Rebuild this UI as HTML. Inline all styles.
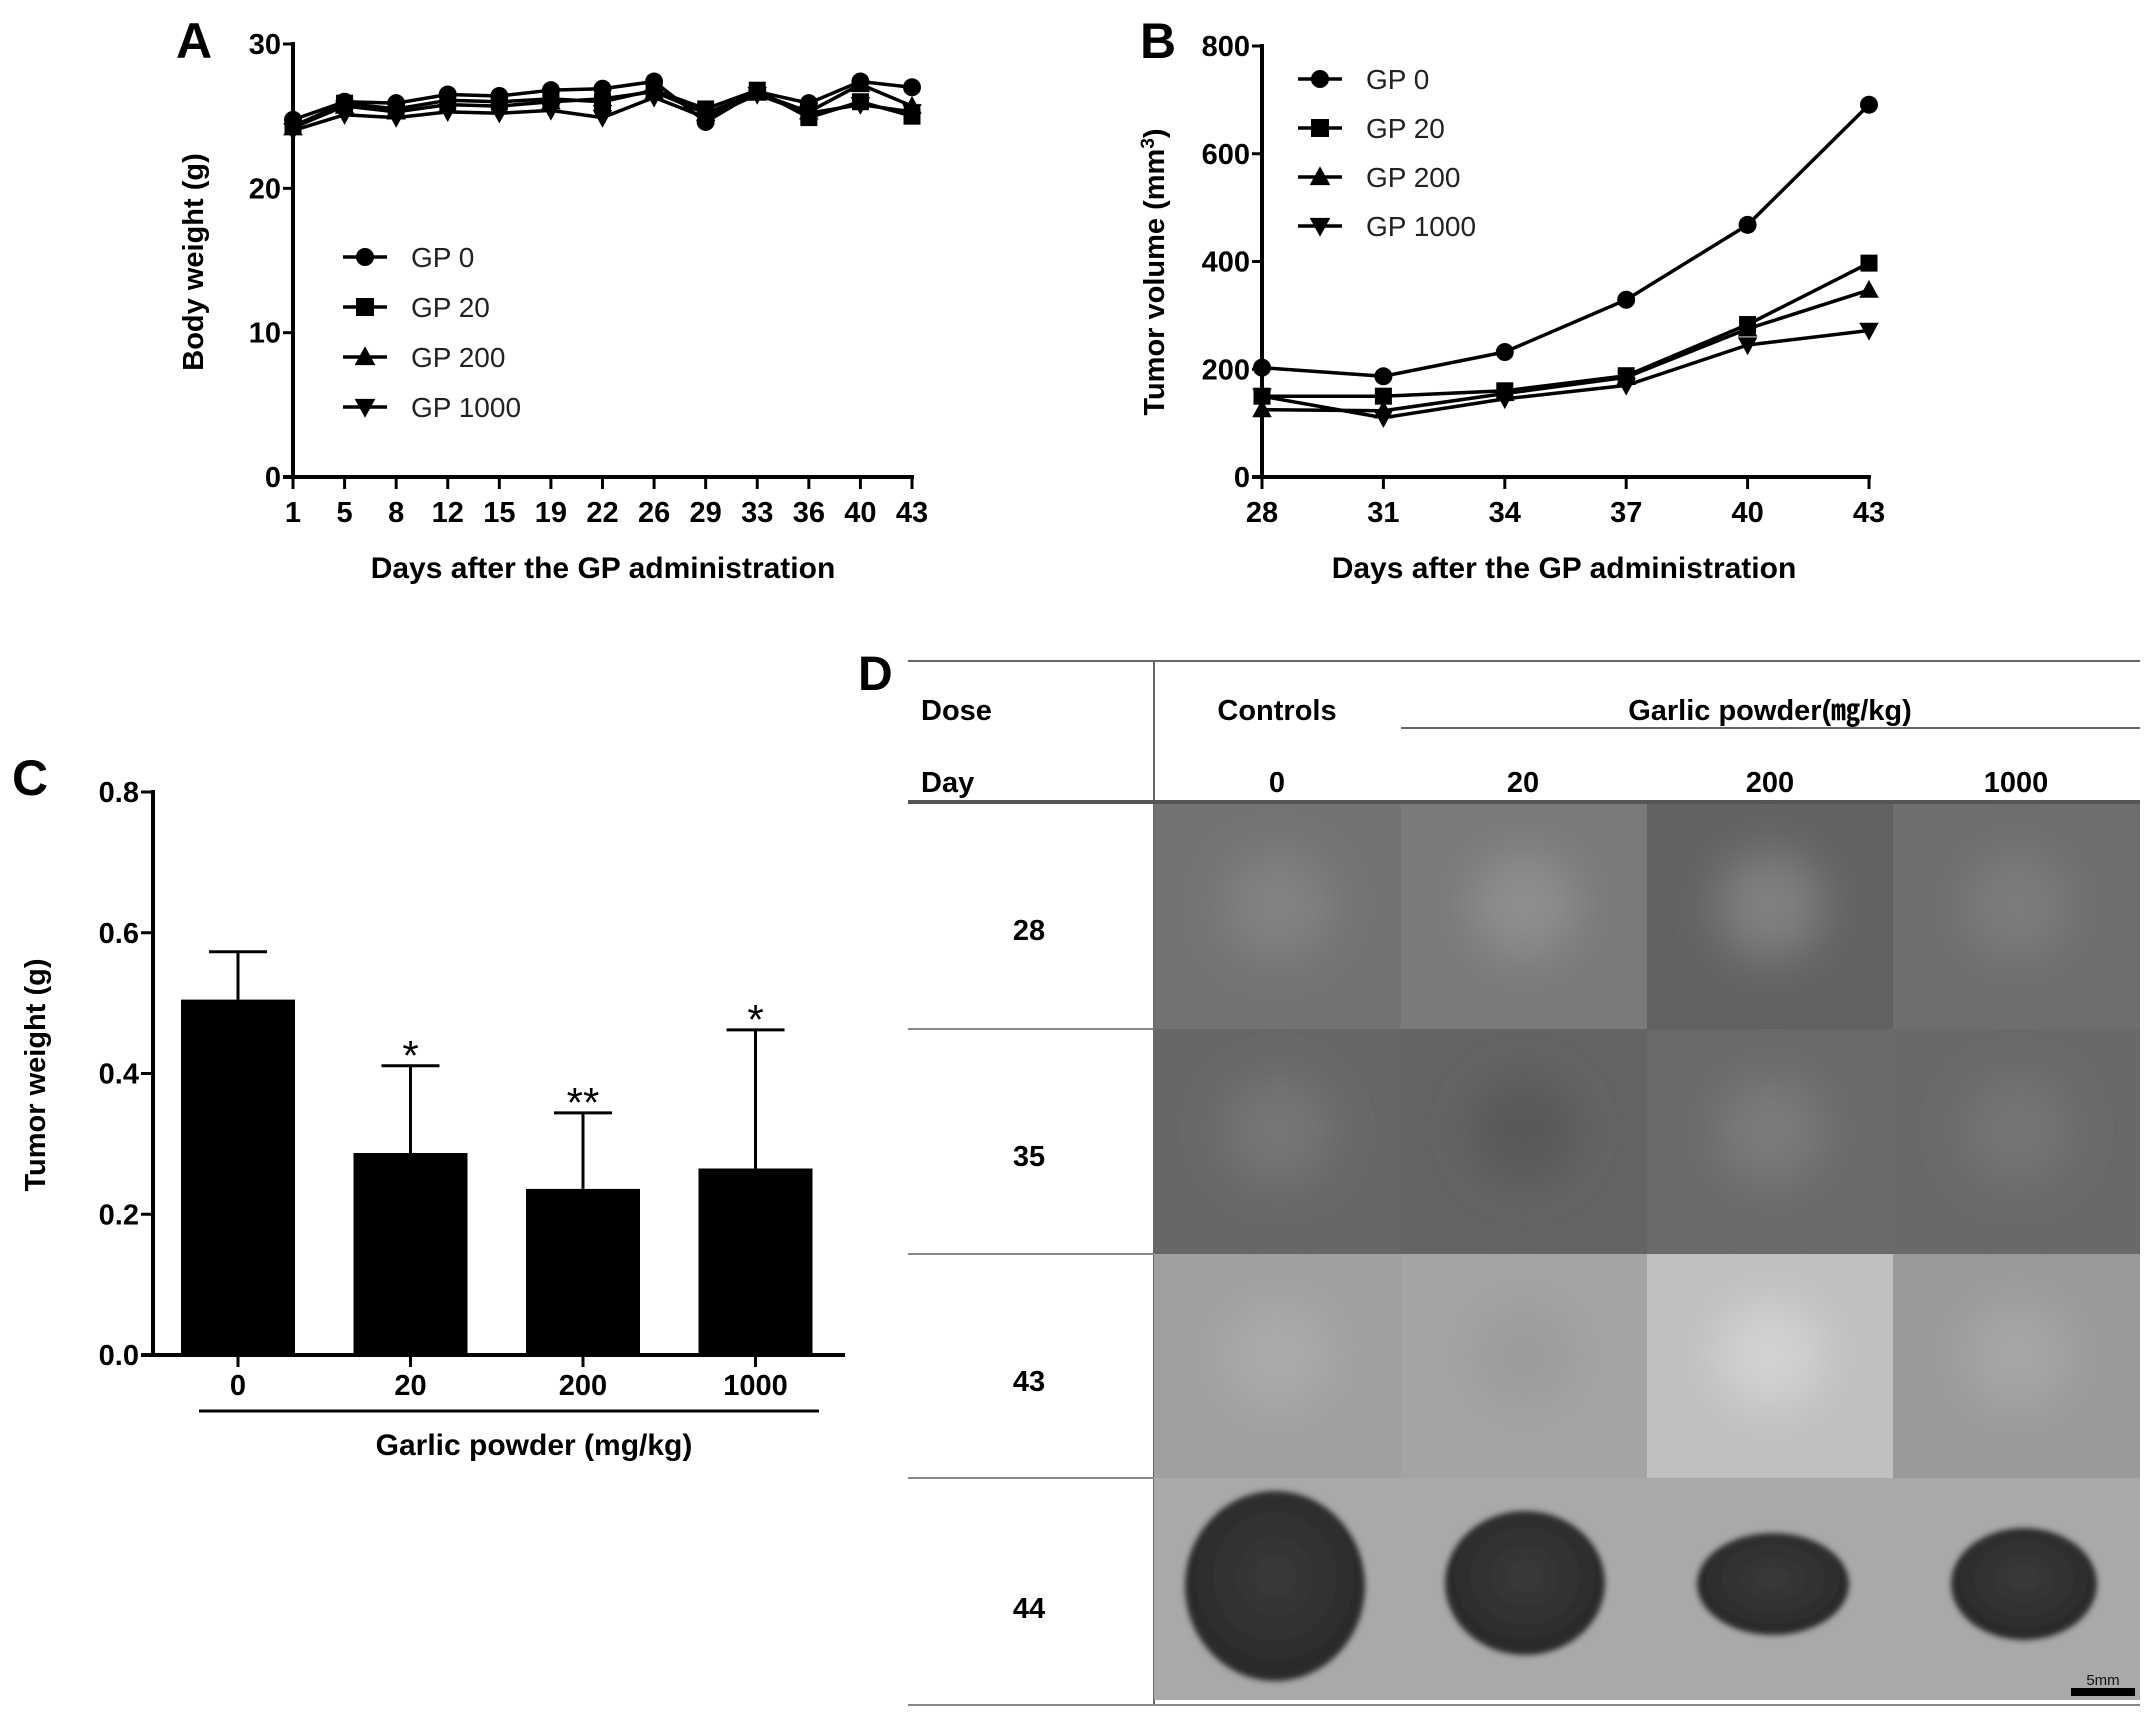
<!DOCTYPE html>
<html><head><meta charset="utf-8"><style>
html,body{margin:0;padding:0;background:#fff;}
svg{display:block;}
.nar{font-family:"Liberation Sans Narrow","Liberation Sans",sans-serif;}
.b{font-family:"Liberation Sans",sans-serif;font-weight:bold;}
.d{font-family:"Liberation Sans","Noto Sans CJK KR",sans-serif;font-weight:bold;}
</style></head><body>
<svg id="fig" width="2150" height="1713" viewBox="0 0 2150 1713" xmlns="http://www.w3.org/2000/svg">
<defs>
<radialGradient id="gDark" cx="50%" cy="45%" r="65%"><stop offset="0" stop-color="#3a3a3a"/><stop offset="0.8" stop-color="#2a2a2a"/><stop offset="1" stop-color="#1e1e1e"/></radialGradient>
<filter id="blur" x="-50%" y="-50%" width="200%" height="200%"><feGaussianBlur stdDeviation="22"/></filter>
<filter id="blur2" x="-20%" y="-20%" width="140%" height="140%"><feGaussianBlur stdDeviation="3"/></filter>
</defs>
<g id="panelA"></g>
<g id="panelB"></g>
<g id="panelC"></g>
<g id="panelD">
  <text x="858" y="690" class="b" font-size="48">D</text>
  <line x1="908" y1="661" x2="2140" y2="661" stroke="#666" stroke-width="2"/>
  <line x1="1154" y1="661" x2="1154" y2="1705" stroke="#666" stroke-width="2"/>
  <line x1="1401" y1="728" x2="2140" y2="728" stroke="#666" stroke-width="2"/>
  <text x="921" y="720" class="d" font-size="29">Dose</text>
  <text x="1277" y="720" class="d" font-size="29" text-anchor="middle">Controls</text>
  <text x="1770" y="720" class="d" font-size="29" text-anchor="middle">Garlic powder(㎎/kg)</text>
  <text x="921" y="792" class="d" font-size="29">Day</text>
  <text x="1277" y="792" class="d" font-size="29" text-anchor="middle">0</text>
  <text x="1523" y="792" class="d" font-size="29" text-anchor="middle">20</text>
  <text x="1770" y="792" class="d" font-size="29" text-anchor="middle">200</text>
  <text x="2016" y="792" class="d" font-size="29" text-anchor="middle">1000</text>
  <rect x="908" y="800" width="1232" height="4" fill="#555"/>
  <g id="photos"></g>
  <text x="1029" y="940" class="d" font-size="29" text-anchor="middle">28</text>
  <text x="1029" y="1166" class="d" font-size="29" text-anchor="middle">35</text>
  <text x="1029" y="1391" class="d" font-size="29" text-anchor="middle">43</text>
  <text x="1029" y="1618" class="d" font-size="29" text-anchor="middle">44</text>
  <line x1="908" y1="1029" x2="1154" y2="1029" stroke="#888" stroke-width="2"/>
  <line x1="908" y1="1254" x2="1154" y2="1254" stroke="#888" stroke-width="2"/>
  <line x1="908" y1="1478" x2="1154" y2="1478" stroke="#888" stroke-width="2"/>
  <line x1="908" y1="1705" x2="2140" y2="1705" stroke="#888" stroke-width="2"/>
</g>
</svg>
<script>
// ---------- Panel A data ----------
const aDays = ["1","5","8","12","15","19","22","26","29","33","36","40","43"];
const aGP0    = [24.75,26.0,25.9,26.5,26.4,26.8,26.9,27.4,24.6,26.7,25.9,27.4,27.0];
const aGP20   = [24.3,25.9,25.5,26.1,26.0,26.2,26.0,26.8,25.5,26.8,24.9,26.0,25.0];
const aGP200  = [24.2,25.7,25.3,25.8,25.7,26.0,26.2,26.7,25.2,26.6,25.3,27.2,25.7];
const aGP1000 = [24.0,25.1,24.9,25.3,25.2,25.4,24.9,26.3,24.9,26.5,25.2,25.8,25.3];
const aYTicks = [0,10,20,30];
// ---------- Panel B data ----------
const bDays = ["28","31","34","37","40","43"];
const bGP0    = [203,187,232,329,468,691];
const bGP20   = [150,150,160,188,283,397];
const bGP200  = [125,123,155,185,275,347];
const bGP1000 = [150,110,145,170,245,272];
const bYTicks = [0,200,400,600,800];
// ---------- Panel C data ----------
const cDoses = ["0","20","200","1000"];
const cMeans = [0.505,0.287,0.236,0.265];
const cErr   = [0.573,0.411,0.344,0.462];
const cStars = ["","*","**","*"];
const cYTicks = ["0.0","0.2","0.4","0.6","0.8"];

const NS="http://www.w3.org/2000/svg";
function mk(parent,tag,attrs){const e=document.createElementNS(NS,tag);for(const k in attrs)e.setAttribute(k,attrs[k]);parent.appendChild(e);return e;}

function marker(g,type,x,y,s){
  let e;
  if(type==="circle") e=mk(g,"circle",{cx:x,cy:y,r:s});
  else if(type==="square") e=mk(g,"rect",{x:x-s,y:y-s,width:2*s,height:2*s});
  else if(type==="tri") e=mk(g,"polygon",{points:`${x},${y-s*1.2} ${x-s*1.15},${y+s*0.9} ${x+s*1.15},${y+s*0.9}`});
  else e=mk(g,"polygon",{points:`${x},${y+s*1.2} ${x-s*1.15},${y-s*0.9} ${x+s*1.15},${y-s*0.9}`});
  e.setAttribute('fill','#000');
  
  
  return e;
}

function lineChart(g,cfg){
  const {x0,x1,y0,y1,ymax,cats,series,yTicks}=cfg;
  const xs=i=>x0+(x1-x0)*i/(cats.length-1);
  const ys=v=>y0-(y0-y1)*v/ymax;
  let ax=mk(g,"line",{x1:x0,y1:y1-2,x2:x0,y2:y0+2,stroke:"#000","stroke-width":4});
  
  let bx=mk(g,"line",{x1:x0-10,y1:y0,x2:x1+2,y2:y0,stroke:"#000","stroke-width":4});
  
  yTicks.forEach(t=>{
    const y=ys(t);
    const tk=mk(g,"line",{x1:x0-10,y1:y,x2:x0,y2:y,stroke:"#000","stroke-width":3});
    
    const tx=mk(g,"text",{x:x0-12,y:y+10,"text-anchor":"end","font-size":29,"font-weight":"bold",class:"nar"});
    tx.textContent=t;
    
  });
  cats.forEach((c,i)=>{
    const x=xs(i);
    const tk=mk(g,"line",{x1:x,y1:y0,x2:x,y2:y0+12,stroke:"#000","stroke-width":3});
    
    const tx=mk(g,"text",{x:x,y:y0+45,"text-anchor":"middle","font-size":29,"font-weight":"bold",class:"nar"});
    tx.textContent=c;
    
  });
  series.forEach(s=>{
    const pts=s.vals.map((v,i)=>xs(i)+","+ys(v)).join(" ");
    const pl=mk(g,"polyline",{points:pts,fill:"none",stroke:"#000","stroke-width":3.5,"stroke-linejoin":"round"});
    
    s.vals.forEach((v,i)=>marker(g,s.m,xs(i),ys(v),s.m==="circle"?9:8.5));
  });
  series.forEach((s,i)=>{
    const y=cfg.legY+i*cfg.legDy;
    const lg=mk(g,"g",{});
    
    mk(lg,"line",{x1:cfg.legX-22,y1:y,x2:cfg.legX+22,y2:y,stroke:"#000","stroke-width":3.5});
    marker(lg,s.m,cfg.legX,y,9);
    const t=mk(lg,"text",{x:cfg.legX+46,y:y+10,"font-size":28,class:"nar",fill:"#222"});
    t.textContent=s.label;
  });
}

const A=document.getElementById("panelA");
lineChart(A,{x0:293,x1:912,y0:477,y1:44,ymax:30,cats:aDays,yTicks:aYTicks,
  series:[{name:"gp0",label:"GP 0",m:"circle",vals:aGP0},{name:"gp20",label:"GP 20",m:"square",vals:aGP20},
          {name:"gp200",label:"GP 200",m:"tri",vals:aGP200},{name:"gp1000",label:"GP 1000",m:"inv",vals:aGP1000}],
  legX:365,legY:257,legDy:50});
mk(A,"text",{x:176,y:58,"font-size":50,class:"b"}).textContent="A";

let t=mk(A,"text",{x:603,y:578,"text-anchor":"middle","font-size":30,"font-weight":"bold",class:"nar"});t.textContent="Days after the GP administration";

t=mk(A,"text",{x:0,y:0,"text-anchor":"middle","font-size":29,class:"b",transform:"translate(203,262) rotate(-90)"});t.textContent="Body weight (g)";


const B=document.getElementById("panelB");
lineChart(B,{x0:1262,x1:1869,y0:477,y1:46,ymax:800,cats:bDays,yTicks:bYTicks,
  series:[{name:"gp0",label:"GP 0",m:"circle",vals:bGP0},{name:"gp20",label:"GP 20",m:"square",vals:bGP20},
          {name:"gp200",label:"GP 200",m:"tri",vals:bGP200},{name:"gp1000",label:"GP 1000",m:"inv",vals:bGP1000}],
  legX:1320,legY:79,legDy:49});
mk(B,"text",{x:1140,y:58,"font-size":50,class:"b"}).textContent="B";

t=mk(B,"text",{x:1564,y:578,"text-anchor":"middle","font-size":30,"font-weight":"bold",class:"nar"});t.textContent="Days after the GP administration";

t=mk(B,"text",{x:0,y:0,"text-anchor":"middle","font-size":29,class:"b",transform:"translate(1164,272) rotate(-90)"});
t.innerHTML='Tumor volume (mm<tspan font-size="19" dy="-10">3</tspan><tspan dy="10">)</tspan>';


// ---------- Panel C ----------
const C=document.getElementById("panelC");
(function(){
  const x0=153,x1=845,y0=1355,y1=792,ymax=0.8,step=172.5,first=238,bw=114;
  const ys=v=>y0-(y0-y1)*v/ymax;
  const xc=i=>first+i*step;
  let e=mk(C,"line",{x1:x0,y1:y1-2,x2:x0,y2:y0+2,stroke:"#000","stroke-width":4});
  
  e=mk(C,"line",{x1:x0-12,y1:y0,x2:x1,y2:y0,stroke:"#000","stroke-width":4});
  
  cYTicks.forEach(tk=>{
    const y=ys(parseFloat(tk));
    const l=mk(C,"line",{x1:x0-12,y1:y,x2:x0,y2:y,stroke:"#000","stroke-width":3});
    
    const tx=mk(C,"text",{x:x0-14,y:y+10,"text-anchor":"end","font-size":29,class:"b"});tx.textContent=tk;
    
  });
  cDoses.forEach((d,i)=>{
    const x=xc(i);
    const eb=mk(C,"line",{x1:x,y1:ys(cErr[i]),x2:x,y2:ys(cMeans[i]),stroke:"#000","stroke-width":3});
    
    const cap=mk(C,"line",{x1:x-29,y1:ys(cErr[i]),x2:x+29,y2:ys(cErr[i]),stroke:"#000","stroke-width":3});
    
    const r=mk(C,"rect",{x:x-bw/2,y:ys(cMeans[i]),width:bw,height:y0-ys(cMeans[i]),fill:"#000"});
    
    const tk=mk(C,"line",{x1:x,y1:y0,x2:x,y2:y0+12,stroke:"#000","stroke-width":3});
    
    const tx=mk(C,"text",{x:x,y:y0+40,"text-anchor":"middle","font-size":29,class:"b"});tx.textContent=d;
    
    if(cStars[i]){
      const s=mk(C,"text",{x:x,y:ys(cErr[i])+4,"text-anchor":"middle","font-size":42,"font-family":"Liberation Sans, sans-serif"});
      s.textContent=cStars[i];
      
    }
  });
  e=mk(C,"line",{x1:199,y1:1411,x2:819,y2:1411,stroke:"#000","stroke-width":3});
  
  e=mk(C,"text",{x:534,y:1455,"text-anchor":"middle","font-size":30,class:"b"});e.textContent="Garlic powder (mg/kg)";
  
  e=mk(C,"text",{x:0,y:0,"text-anchor":"middle","font-size":29,class:"b",transform:"translate(45,1075) rotate(-90)"});e.textContent="Tumor weight (g)";
  
  e=mk(C,"text",{x:12,y:795,"font-size":50,class:"b"});e.textContent="C";
  
})();

// ---------- Panel D photos (illustrative) ----------
const P=document.getElementById("photos");
const colX=[1154,1401,1647,1893,2140];
const rowY=[804,1029,1254,1478,1705];
const cellBg=[["#737373","#7a7a7a","#626262","#6e6e6e"],
              ["#676767","#646464","#6a6a6a","#696969"],
              ["#a0a0a0","#a4a4a4","#c0c0c0","#9a9a9a"]];
const blobC=[["#828282","#8e8e8e","#808080","#7c7c7c"],
             ["#767676","#585858","#7a7a7a","#747474"],
             ["#aaaaaa","#9c9c9c","#d2d2d2","#a6a6a6"]];
const clipG=mk(P,"g",{});
for(let r=0;r<3;r++)for(let c=0;c<4;c++){
  const x=colX[c],y=rowY[r],w=colX[c+1]-x,h=rowY[r+1]-y;
  const cid="cl"+r+c;
  const cp=mk(document.querySelector("defs"),"clipPath",{id:cid});
  mk(cp,"rect",{x:x,y:y,width:w,height:h});
  const cell=mk(P,"rect",{x:x,y:y,width:w,height:h,fill:cellBg[r][c]});
  
  const gg=mk(P,"g",{"clip-path":"url(#"+cid+")"});
  const bl=mk(gg,"ellipse",{cx:x+w*0.5,cy:y+h*0.45,rx:w*0.22,ry:h*0.24,fill:blobC[r][c],filter:"url(#blur)"});
  
}
const bg=mk(P,"rect",{x:1154,y:1478,width:986,height:222,fill:"#a9a9a9"});

const tumors=[[1275,1586,90,95],[1525,1583,80,72],[1773,1584,76,51],[2024,1584,73,56]];
tumors.forEach(tm=>{
  const e=mk(P,"ellipse",{cx:tm[0],cy:tm[1],rx:tm[2],ry:tm[3],fill:"url(#gDark)",filter:"url(#blur2)"});
  
});
let sb=mk(P,"rect",{x:2071,y:1688,width:64,height:8,fill:"#000"});

sb=mk(P,"text",{x:2103,y:1685,"text-anchor":"middle","font-size":15,"font-family":"Liberation Sans, sans-serif",fill:"#111"});sb.textContent="5mm";

</script>
</body></html>
